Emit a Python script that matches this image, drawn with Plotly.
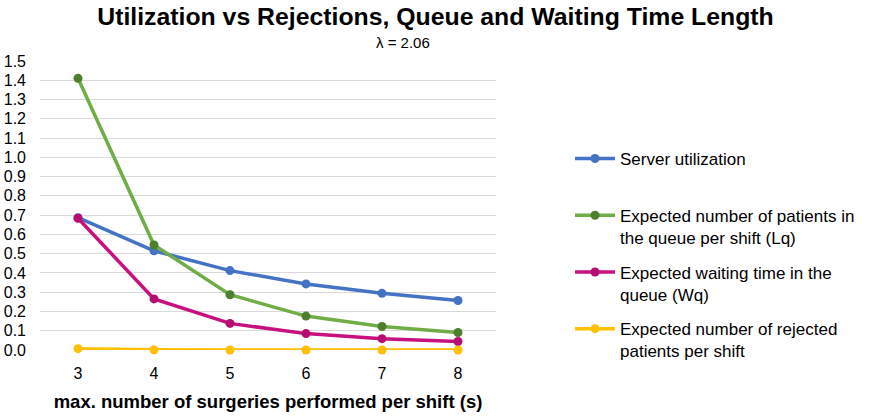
import plotly.graph_objects as go

s_values = [3, 4, 5, 6, 7, 8]
utilization = [0.687, 0.515, 0.412, 0.343, 0.294, 0.257]
lq = [1.41, 0.545, 0.287, 0.176, 0.122, 0.091]
wq = [0.684, 0.265, 0.138, 0.085, 0.059, 0.044]
rejected = [0.007, 0.001, 0.0, 0.0, 0.0, 0.0]

series = [
    ("Server utilization<br>\u00a0", utilization, "#4472C4", "#4472C4"),
    ("Expected number of patients in<br>the queue per shift (Lq)", lq, "#70AD47", "#4E7F2E"),
    ("Expected waiting time in the<br>queue (Wq)", wq, "#C8107E", "#B50E70"),
    ("Expected number of rejected<br>patients per shift", rejected, "#FFC000", "#FFC000"),
]

fig = go.Figure()
for i, (name, vals, lc, mc) in enumerate(series):
    fig.add_trace(go.Scatter(
        x=s_values, y=vals, name=name, mode="lines+markers",
        line=dict(color=lc, width=3.5),
        marker=dict(color=mc, size=9),
        cliponaxis=False, legendgroup=str(i),
    ))

fig.update_layout(
    width=871, height=418,
    margin=dict(l=40, r=374, t=61, b=68),
    paper_bgcolor="white", plot_bgcolor="white",
    font=dict(family="Liberation Sans, Arial, sans-serif", color="#000000"),
    title=dict(text="<b>Utilization vs Rejections, Queue and Waiting Time Length</b>",
               x=0.5, xanchor="center", yref="container", y=1 - 16 / 418, yanchor="middle",
               font=dict(size=24.8, color="#000000")),
    annotations=[dict(text="λ = 2.06", xref="paper", yref="paper",
                      x=(404 - 40) / 457, y=1 + (61 - 42) / 289,
                      xanchor="center", yanchor="middle",
                      showarrow=False, font=dict(size=15, color="#000000"))],
    xaxis=dict(range=[2.5, 8.5], tickvals=s_values, ticktext=[str(v) for v in s_values],
               showgrid=False, zeroline=False, showline=False, automargin=False,
               tickfont=dict(size=16, color="#000000"), ticklabelstandoff=12,
               title=dict(text="<b>max. number of surgeries performed per shift (s)</b>",
                          font=dict(size=18.5, color="#000000"), standoff=14)),
    yaxis=dict(range=[0, 1.5], dtick=0.1, tickformat=".1f",
               showgrid=True, gridcolor="#D9D9D9", gridwidth=1,
               zeroline=False, showline=False, automargin=False,
               tickfont=dict(size=16, color="#000000"), ticklabelstandoff=13),
    legend=dict(x=(570 - 40) / 457, xanchor="left", y=1 - (141 - 61) / 289, yanchor="top",
                font=dict(size=17, color="#000000"), tracegroupgap=9.5,
                valign="top", itemwidth=40, bgcolor="rgba(0,0,0,0)"),
)
fig.write_html("out.html")
